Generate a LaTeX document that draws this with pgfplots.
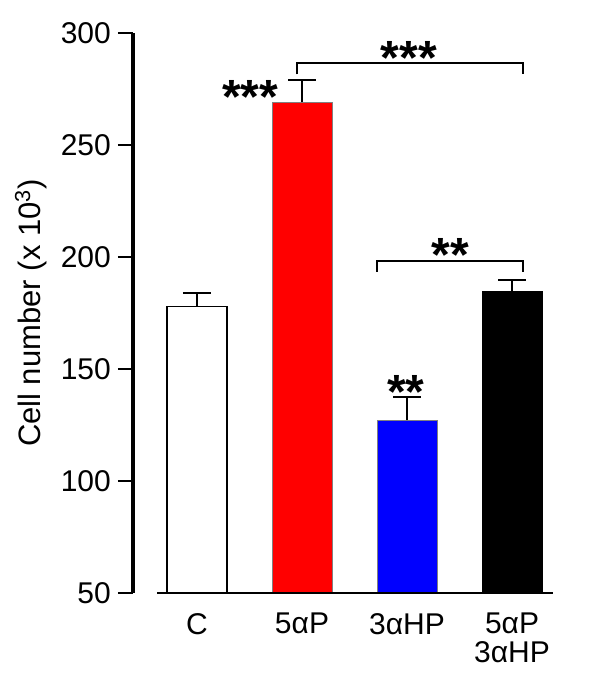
\documentclass[border=0pt]{standalone}
\usepackage{fontspec}
\setmainfont{Liberation Sans}
\usepackage{pgfplots}
\pgfplotsset{compat=1.18}
\begin{document}
\begin{tikzpicture}
\pgfplotsset{eb/.style={error bars/.cd, y dir=plus, y explicit,
  error bar style={line width=1pt,black},
  error mark options={rotate=90,mark size=7pt,line width=1pt,black}}}
\begin{axis}[
  x=52.5pt, y=1.12pt,
  xmin=-0.61, xmax=3.4, ymin=50, ymax=300,
  axis y line*=left, axis x line*=bottom,
  x axis line style={draw=none},
  every outer y axis line/.append style={line width=1.6pt, -},
  y axis line style={line width=1.6pt, -},
  ytick={50,100,...,300},
  xtick={0,1,2,3},
  xticklabels={C, 5αP, 3αHP, 5αP\\3αHP},
  xticklabel style={align=center, font=\fontsize{15}{14.5}\selectfont, yshift=1pt, text depth=0pt},
  x tick style={draw=none},
  y tick style={line width=1.2pt, black},
  major tick length=7.5pt,
  tick align=outside,
  yticklabel style={font=\fontsize{15}{16}\selectfont},
  /pgf/number format/assume math mode=true,
  ylabel={Cell number (x 10\textsuperscript{3})},
  ylabel style={font=\fontsize{15.5}{16}\selectfont},
  ybar, bar width=30pt,
  clip bounding box=upper bound,
]
\addplot[fill=white, draw=black, line width=0.6pt, bar shift=0pt, eb] coordinates {(0,178) +- (0,6)};
\addplot[fill=red, draw=black!50, line width=0.4pt, bar shift=0pt, eb] coordinates {(1,269) +- (0,10)};
\addplot[fill=blue, draw=black!50, line width=0.4pt, bar shift=0pt, eb] coordinates {(2,127) +- (0,10.5)};
\addplot[fill=black, draw=black, line width=0.4pt, bar shift=0pt, eb] coordinates {(3,184.4) +- (0,5.5)};
\node[font=\fontsize{24}{24}\selectfont\bfseries, anchor=base] at (axis cs:0.505,264.2) {***};
\node[font=\fontsize{24}{24}\selectfont\bfseries, anchor=base] at (axis cs:2.019,281.6) {***};
\node[font=\fontsize{24}{24}\selectfont\bfseries, anchor=base] at (axis cs:1.99,132.5) {**};
\node[font=\fontsize{24}{24}\selectfont\bfseries, anchor=base] at (axis cs:2.414,193.6) {**};
\draw[line width=1pt] (axis cs:0.952,281.5) |- (axis cs:3.105,286.6) -- (axis cs:3.105,281.5);
\draw[line width=1pt] (axis cs:1.714,193.3) |- (axis cs:3.105,198.2) -- (axis cs:3.105,193.3);
\coordinate (bl) at (axis cs:-0.38,50);
\coordinate (br) at (axis cs:3.39,50);
\coordinate (bbSW) at (axis cs:-1.876,5.8);
\coordinate (bbNE) at (axis cs:3.838,314.7);
\end{axis}
\draw[line width=0.6pt] (bl) -- (br);
\path (bbSW) rectangle (bbNE);
\end{tikzpicture}
\end{document}
